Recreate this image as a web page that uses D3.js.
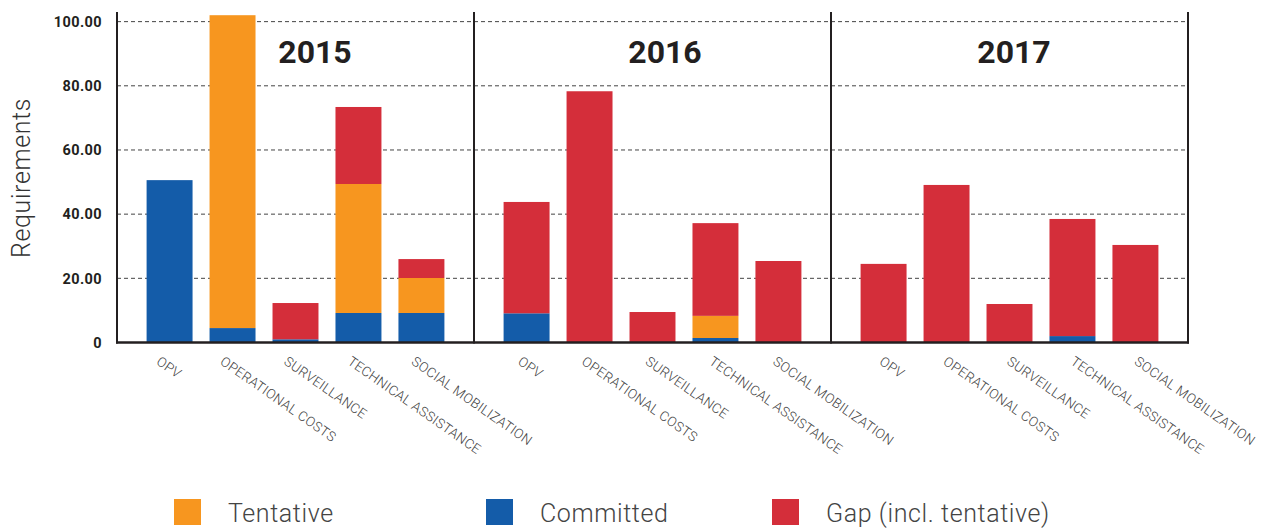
<!DOCTYPE html>
<html>
<head>
<meta charset="utf-8">
<script src="https://cdn.jsdelivr.net/npm/d3@7"></script>
<style>
  html, body { margin: 0; padding: 0; background: #fff; }
  svg { display: block; }
</style>
</head>
<body>
<svg id="chart" width="1274" height="531"></svg>
<script>
// Funding requirements by activity, per year
const years = ["2015", "2016", "2017"];
const activities = ["OPV", "OPERATIONAL COSTS", "SURVEILLANCE", "TECHNICAL ASSISTANCE", "SOCIAL MOBILIZATION"];

// Stack segments (bottom to top): committed, tentative, gap
const committed2015 = [50.6, 4.5, 1.0, 9.2, 9.2];
const tentative2015 = [0, 97.5, 0, 40.2, 10.9];
const gap2015       = [0, 0, 11.3, 24.0, 5.9];

const committed2016 = [9.1, 0, 0, 1.4, 0];
const tentative2016 = [0, 0, 0, 6.9, 0];
const gap2016       = [34.7, 78.3, 9.5, 28.9, 25.4];

const committed2017 = [0, 0, 0, 2.0, 0];
const tentative2017 = [0, 0, 0, 0, 0];
const gap2017       = [24.5, 49.1, 12.0, 36.5, 30.4];

const yTicks = [0, 20, 40, 60, 80, 100];
const yTickLabels = ["0", "20.00", "40.00", "60.00", "80.00", "100.00"];

const seriesKeys = ["committed", "tentative", "gap"];
const seriesColors = { committed: "#145ca9", tentative: "#f7961f", gap: "#d42e3a" };
const legendItems = [
  { key: "tentative", label: "Tentative" },
  { key: "committed", label: "Committed" },
  { key: "gap", label: "Gap (incl. tentative)" }
];

const byYear = {
  "2015": { committed: committed2015, tentative: tentative2015, gap: gap2015 },
  "2016": { committed: committed2016, tentative: tentative2016, gap: gap2016 },
  "2017": { committed: committed2017, tentative: tentative2017, gap: gap2017 }
};

const svg = d3.select("#chart");
const plotLeft = 117, plotRight = 1188, plotTop = 12, plotBottom = 342.5;
const ink = "#231f20";

const panel = d3.scaleBand().domain(years).range([plotLeft, plotRight]).padding(0);
const x = d3.scaleBand().domain(activities).range([0, panel.bandwidth()])
  .paddingInner(0.27).paddingOuter(0.47);
const y = d3.scaleLinear().domain([0, 103]).range([plotBottom, plotTop]);

// Dashed gridlines
svg.append("g").selectAll("line")
  .data(yTicks.filter(d => d > 0))
  .join("line")
  .attr("x1", plotLeft).attr("x2", plotRight)
  .attr("y1", d => y(d)).attr("y2", d => y(d))
  .attr("stroke", "#444").attr("stroke-width", 1)
  .attr("stroke-dasharray", "4,3");

// Stacked bars
const stack = d3.stack().keys(seriesKeys);
years.forEach((yr, p) => {
  const rows = activities.map((a, i) => ({
    activity: a,
    committed: byYear[yr].committed[i],
    tentative: byYear[yr].tentative[i],
    gap: byYear[yr].gap[i]
  }));
  const layers = stack(rows);
  const g = svg.append("g").attr("transform", `translate(${panel(yr)},0)`);
  g.selectAll("g").data(layers).join("g")
    .attr("fill", d => seriesColors[d.key])
    .selectAll("rect")
    .data(d => d.filter(s => s[1] - s[0] > 0))
    .join("rect")
    .attr("x", d => x(d.data.activity))
    .attr("width", x.bandwidth())
    .attr("y", d => y(d[1]))
    .attr("height", d => y(d[0]) - y(d[1]));

  // Category labels, slanted; they drift slightly right across the chart
  g.selectAll("text.cat").data(activities).join("text")
    .attr("class", "cat")
    .attr("transform", (d, i) =>
      `translate(${x(d) + x.bandwidth() / 2 - 14 + 4.5 * p + 0.75 * i},${plotBottom + 21}) rotate(35)`)
    .attr("font-family", "Roboto, sans-serif")
    .attr("font-weight", 300)
    .attr("font-size", 13.5)
    .attr("letter-spacing", 0.3)
    .attr("fill", "#444")
    .text(d => d);
});

// Year headings
const yearOffsets = { "2015": 198, "2016": 191, "2017": 183 };
svg.append("g").selectAll("text").data(years).join("text")
  .attr("x", d => panel(d) + yearOffsets[d])
  .attr("y", 63)
  .attr("text-anchor", "middle")
  .attr("font-family", "Roboto, sans-serif")
  .attr("font-weight", 700)
  .attr("font-size", 32)
  .attr("fill", ink)
  .text(d => d);

// Baseline and panel dividers
svg.append("line")
  .attr("x1", plotLeft - 1).attr("x2", plotRight + 1)
  .attr("y1", y(0)).attr("y2", y(0))
  .attr("stroke", ink).attr("stroke-width", 2.5);
svg.append("g").selectAll("line")
  .data(years.map(d => panel(d)).concat([plotRight]))
  .join("line")
  .attr("x1", d => d).attr("x2", d => d)
  .attr("y1", plotTop).attr("y2", y(0) + 1)
  .attr("stroke", ink).attr("stroke-width", 2);

// Y tick labels
svg.append("g").selectAll("text").data(yTicks).join("text")
  .attr("x", 102)
  .attr("y", d => y(d))
  .attr("dy", "0.36em")
  .attr("text-anchor", "end")
  .attr("font-family", "Roboto, sans-serif")
  .attr("font-weight", 700)
  .attr("font-size", 14.5)
  .attr("letter-spacing", 0.4)
  .attr("fill", ink)
  .text((d, i) => yTickLabels[i]);

// Y axis title
svg.append("text")
  .attr("transform", "translate(30,178) rotate(-90)")
  .attr("text-anchor", "middle")
  .attr("font-family", "Roboto, sans-serif")
  .attr("font-weight", 300)
  .attr("font-size", 25)
  .attr("letter-spacing", 0.6)
  .attr("fill", "#333")
  .text("Requirements");

// Legend
const legendX = [174, 486, 772];
const legend = svg.append("g").selectAll("g").data(legendItems).join("g")
  .attr("transform", (d, i) => `translate(${legendX[i]},499)`);
legend.append("rect")
  .attr("width", 27).attr("height", 26)
  .attr("fill", d => seriesColors[d.key]);
legend.append("text")
  .attr("x", 54).attr("y", 22.5)
  .attr("font-family", "Roboto, sans-serif")
  .attr("font-weight", 300)
  .attr("font-size", 25)
  .attr("letter-spacing", 0.6)
  .attr("fill", "#444")
  .text(d => d.label);
</script>
</body>
</html>
